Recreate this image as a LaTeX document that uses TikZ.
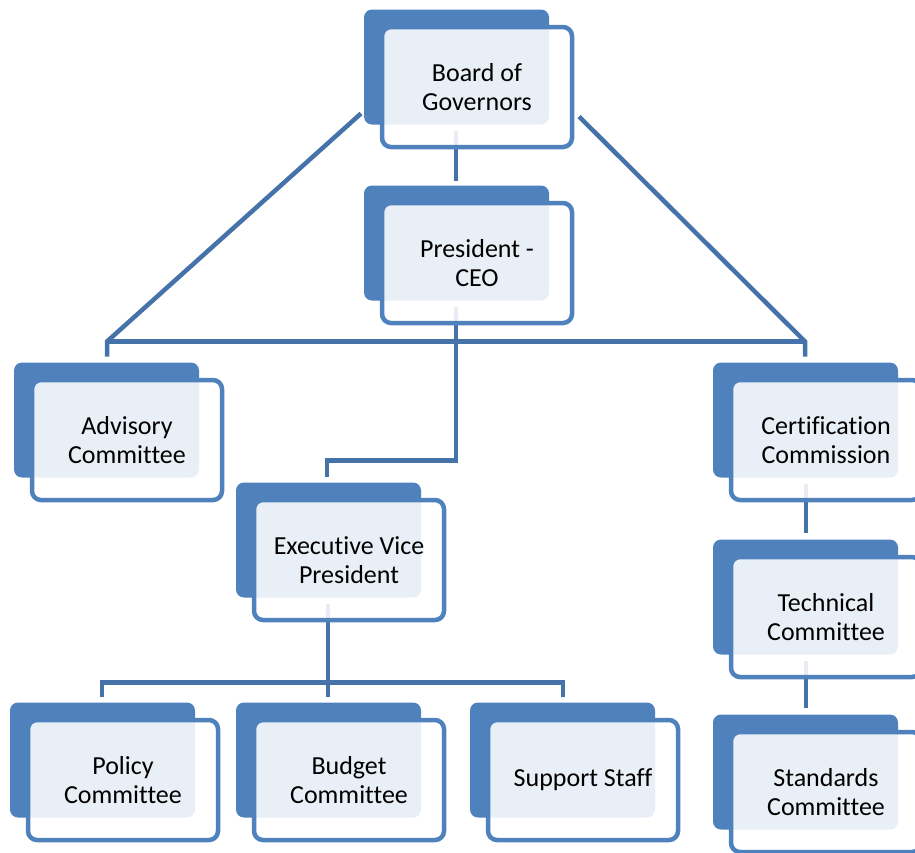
\documentclass[tikz,border=0pt]{standalone}
\usepackage{fontspec}
\setmainfont[Ligatures={NoCommon}]{Carlito}
\usetikzlibrary{calc}
\pgfdeclarelayer{background}
\pgfsetlayers{background,main}
\definecolor{boxblue}{HTML}{4F81BD}
\definecolor{linkblue}{HTML}{4672AA}
\tikzset{
  orgnode/.style={draw=boxblue, line width=4.5pt, fill=white, fill opacity=0.88,
    text opacity=1, rounded corners=9pt, minimum width=190pt, minimum height=120pt,
    inner sep=0pt, align=center, font=\fontsize{26}{28.5}\selectfont, text=black},
  backbox/.style={fill=boxblue, rounded corners=8pt},
  conn/.style={draw=linkblue, line width=4.5pt},
}
\newcommand\backof[1]{\fill[backbox] ($(#1.center)+(-113,-77.5)$) rectangle ++(185,115);}
\begin{document}
\begin{tikzpicture}[x=1pt,y=-1pt]
\useasboundingbox (0,0) rectangle (915,852);
% front boxes (nodes)
\node[orgnode] (board)   at (477,87)    {Board of\\Governors};
\node[orgnode] (pres)    at (477,263)   {President -\\CEO};
\node[orgnode] (adv)     at (127,440)   {Advisory\\Committee};
\node[orgnode] (cert)    at (826,440)   {Certification\\Commission};
\node[orgnode] (evp)     at (349,560)   {Executive Vice\\President};
\node[orgnode] (tech)    at (826,617)   {Technical\\Committee};
\node[orgnode] (std)     at (826,792)   {Standards\\Committee};
\node[orgnode] (policy)  at (123,780)   {Policy\\Committee};
\node[orgnode] (budget)  at (349,780)   {Budget\\Committee};
\node[orgnode] (support) at (583,780)   {Support Staff};
\begin{pgfonlayer}{background}
  \backof{board}\backof{pres}\backof{adv}\backof{cert}\backof{evp}
  \backof{tech}\backof{std}\backof{policy}\backof{budget}\backof{support}
  % Board -> President
  \draw[conn] ($(board.center)+(-21,44)$) -- ($(pres.center)+(-21,-82)$);
  % Board -> Advisory / Certification
  \draw[conn] ($(board.center)+(-116,26.5)$) -- ($(adv.center)+(-20,-98.5)$) -- ($(adv.center)+(-20,-83.5)$);
  \draw[conn] ($(board.center)+(102,29.5)$) -- ($(cert.center)+(-21,-98.5)$) -- ($(cert.center)+(-21,-83.5)$);
  \draw[conn] ($(adv.center)+(-20,-98.5)$) -- ($(cert.center)+(-21,-98.5)$);
  % President -> Executive VP
  \draw[conn] ($(pres.center)+(-21,44)$) |- ($(evp.center)+(-22,-99.5)$) -- ($(evp.center)+(-22,-83.5)$);
  % Executive VP -> committees
  \draw[conn] ($(evp.center)+(-21,44)$) -- ($(budget.center)+(-21,-83.5)$);
  \draw[conn] ($(policy.center)+(-21,-83.5)$) |- ($(support.center)+(-20,-97.5)$) -- ($(support.center)+(-20,-83.5)$);
  % Certification -> Technical -> Standards
  \draw[conn] ($(cert.center)+(-20,43.5)$) -- ($(tech.center)+(-20,-84.5)$);
  \draw[conn] ($(tech.center)+(-20,44)$) -- ($(std.center)+(-20,-84)$);
\end{pgfonlayer}
\end{tikzpicture}
\end{document}
